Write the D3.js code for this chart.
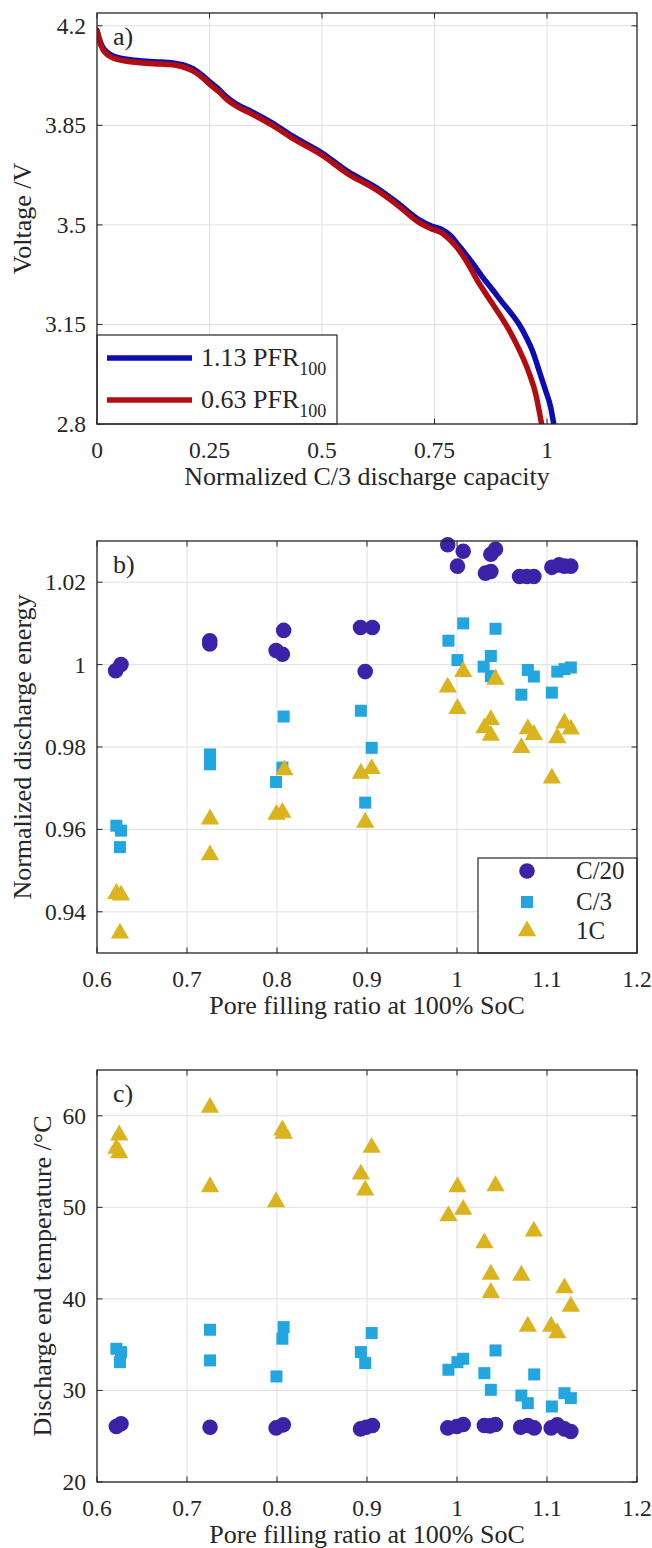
<!DOCTYPE html>
<html><head><meta charset="utf-8">
<script src="https://cdn.jsdelivr.net/npm/d3@7"></script>
<style>
body{margin:0;background:#fff}
text{font-family:"Liberation Serif","Times New Roman",serif;fill:#262626}
</style>
</head><body><svg id="chart" width="652" height="1548"></svg>
<script>
// ---------- Panel a data ----------
const capBlue = [0,0.005,0.012,0.022,0.035,0.05,0.063,0.085,0.11,0.135,0.157,0.175,0.19,0.205,0.22,0.235,0.25,0.27,0.287,0.31,0.343,0.39,0.436,0.501,0.557,0.623,0.669,0.716,0.745,0.765,0.786,0.80,0.818,0.837,0.856,0.88,0.902,0.92,0.939,0.953,0.967,0.985,0.996,1.008,1.015];
const voltBlue = [4.184,4.155,4.127,4.108,4.095,4.087,4.083,4.079,4.075,4.073,4.071,4.068,4.063,4.055,4.043,4.025,4.004,3.978,3.951,3.925,3.899,3.858,3.811,3.752,3.688,3.629,3.576,3.518,3.495,3.485,3.462,3.435,3.400,3.36,3.318,3.27,3.225,3.19,3.148,3.108,3.06,2.975,2.922,2.86,2.8];
const capRed = [0,0.005,0.012,0.022,0.035,0.05,0.063,0.085,0.11,0.135,0.157,0.175,0.19,0.205,0.22,0.235,0.25,0.27,0.287,0.31,0.343,0.39,0.436,0.501,0.557,0.623,0.669,0.716,0.745,0.765,0.786,0.80,0.82,0.847,0.88,0.914,0.94,0.96,0.975,0.988];
const voltRed = [4.184,4.15,4.12,4.1,4.088,4.08,4.076,4.072,4.068,4.066,4.064,4.061,4.056,4.047,4.035,4.017,3.995,3.969,3.943,3.917,3.891,3.85,3.803,3.744,3.68,3.621,3.568,3.508,3.485,3.473,3.445,3.42,3.375,3.30,3.22,3.135,3.055,2.98,2.905,2.8];
const seriesA = ["1.13 PFR","0.63 PFR"];
const seriesASub = "100";
const xTicksA = [0,0.25,0.5,0.75,1];
const yTicksA = [2.8,3.15,3.5,3.85,4.2];

// ---------- Panel b data (normalized discharge energy) ----------
const pfrC20 = [0.6207,0.6267,0.7253,0.7253,0.8074,0.799,0.806,0.8928,0.906,0.898,0.9897,1.0069,1.0005,1.0428,1.0376,1.0316,1.0376,1.0695,1.0775,1.0854,1.1054,1.1134,1.1194,1.1265];
const energyC20 = [0.9985,1.0,1.005,1.0058,1.0083,1.0034,1.0025,1.009,1.009,0.9983,1.0291,1.0275,1.0239,1.028,1.0268,1.0222,1.0226,1.0214,1.0214,1.0214,1.0236,1.0242,1.0239,1.0239];
const pfrC3 = [0.6215,0.6267,0.6255,0.7256,0.7256,0.7256,0.8074,0.806,0.799,0.8932,0.9052,0.898,0.9905,1.0069,1.0005,1.0428,1.0376,1.0296,1.0376,1.0715,1.0787,1.0854,1.1054,1.1114,1.1194,1.1265];
const energyC3 = [0.9609,0.9597,0.9557,0.9782,0.977,0.9758,0.9874,0.975,0.9715,0.9888,0.9798,0.9665,1.0058,1.01,1.0011,1.0087,1.0021,0.9995,0.9972,0.9927,0.9987,0.9971,0.9932,0.9983,0.9989,0.9993];
const pfr1C = [0.6215,0.6267,0.6255,0.7256,0.7256,0.8082,0.7994,0.806,0.8932,0.9052,0.898,1.0069,0.9897,1.0005,1.0428,1.0376,1.0304,1.0376,1.0715,1.0787,1.0854,1.1054,1.1114,1.1194,1.1265];
const energy1C = [0.9444,0.944,0.9348,0.9625,0.9538,0.9744,0.9636,0.9641,0.9736,0.9747,0.9617,0.9983,0.9945,0.9893,0.9964,0.9866,0.9846,0.9828,0.9798,0.9844,0.983,0.9724,0.9822,0.9858,0.9843];
const yTicksB = [0.94,0.96,0.98,1,1.02];

// ---------- Panel c data (discharge end temperature) ----------
const pfrC20T = [0.6215,0.6267,0.7256,0.799,0.807,0.8928,0.899,0.906,0.9897,0.9997,1.0069,1.0304,1.0364,1.0428,1.0707,1.0787,1.0858,1.1046,1.1114,1.1194,1.1265];
const tempC20 = [26.06,26.35,25.99,25.91,26.24,25.8,25.99,26.17,25.91,26.06,26.28,26.17,26.13,26.28,25.99,26.17,25.91,25.91,26.24,25.8,25.51];
const pfrC3T = [0.6215,0.6267,0.6255,0.7256,0.7256,0.8074,0.806,0.7994,0.9052,0.8932,0.898,0.9905,1.0005,1.0069,1.0428,1.0304,1.0376,1.0715,1.0787,1.0858,1.1054,1.1194,1.1265];
const tempC3 = [34.55,34.19,33.09,36.63,33.28,36.92,35.65,31.53,36.27,34.19,32.99,32.26,33.09,33.46,34.37,31.89,30.07,29.45,28.61,31.75,28.25,29.7,29.16];
const pfr1CT = [0.6247,0.6215,0.6247,0.7256,0.7256,0.806,0.8074,0.799,0.9052,0.8932,0.898,1.0005,1.0069,0.9905,1.0428,1.0304,1.0376,1.0376,1.0854,1.0715,1.0787,1.1194,1.1265,1.1046,1.1114];
const temp1C = [57.89,56.43,55.95,60.91,52.23,58.43,58.07,50.59,56.54,53.62,51.87,52.23,49.76,49.06,52.34,46.11,42.68,40.68,47.39,42.57,37.0,41.19,39.18,37.0,36.27];
const yTicksC = [20,30,40,50,60];
const xTicksBC = [0.6,0.7,0.8,0.9,1,1.1,1.2];
const rateLabels = ["C/20","C/3","1C"];

// ---------- styling ----------
const colBlue = "#0c0cb2", colRed = "#b20c10";
const colC20 = "#3b22a8", colC3 = "#22a6e0", col1C = "#dab31e";
const frameCol = "#262626", gridCol = "#e0e0e0";
const TICK_FS = 23.5, LABEL_FS = 26;
const L = 97, R = 637;

const svg = d3.select("#chart");

function hText(g, x, y, str, anchor, size) {
  return g.append("text").attr("x", x).attr("y", y)
    .attr("text-anchor", anchor || "start").attr("font-size", size).text(str);
}

function panel(top, bottom, xDom, yDom, xTicks, yTicks, xLabel, yLabel, yLabelX, tag) {
  const x = d3.scaleLinear().domain(xDom).range([L, R]);
  const y = d3.scaleLinear().domain(yDom).range([bottom, top]);
  const g = svg.append("g");
  g.append("g").selectAll("line").data(xTicks).join("line")
    .attr("x1", d => x(d)).attr("x2", d => x(d)).attr("y1", top).attr("y2", bottom)
    .attr("stroke", gridCol).attr("stroke-width", 1);
  g.append("g").selectAll("line").data(yTicks).join("line")
    .attr("y1", d => y(d)).attr("y2", d => y(d)).attr("x1", L).attr("x2", R)
    .attr("stroke", gridCol).attr("stroke-width", 1);
  const tl = 5.5;
  const tg = g.append("g").attr("stroke", frameCol).attr("stroke-width", 1);
  tg.selectAll(".xb").data(xTicks).join("line").attr("x1", d => x(d)).attr("x2", d => x(d)).attr("y1", bottom).attr("y2", bottom - tl);
  tg.selectAll(".xt").data(xTicks).join("line").attr("x1", d => x(d)).attr("x2", d => x(d)).attr("y1", top).attr("y2", top + tl);
  tg.selectAll(".yl").data(yTicks).join("line").attr("y1", d => y(d)).attr("y2", d => y(d)).attr("x1", L).attr("x2", L + tl);
  tg.selectAll(".yr").data(yTicks).join("line").attr("y1", d => y(d)).attr("y2", d => y(d)).attr("x1", R).attr("x2", R - tl);
  xTicks.forEach(d => hText(g, x(d), bottom + 34, String(d), "middle", TICK_FS));
  yTicks.forEach(d => hText(g, L - 11, y(d) + 8, String(d), "end", TICK_FS));
  hText(g, (L + R) / 2, bottom + 61, xLabel, "middle", LABEL_FS);
  g.append("text").attr("transform", `translate(${yLabelX},${(top + bottom) / 2}) rotate(-90)`)
    .attr("text-anchor", "middle").attr("font-size", LABEL_FS).text(yLabel);
  hText(g, L + 16, top + 32, tag, "start", LABEL_FS);
  return {x, y, g};
}

function frame(top, bottom) {
  svg.append("rect").attr("x", L).attr("y", top).attr("width", R - L).attr("height", bottom - top)
    .attr("fill", "none").attr("stroke", frameCol).attr("stroke-width", 1.3);
}

// ---------- Panel a ----------
const A = panel(13, 424, [0, 1.2], [2.8, 4.245], xTicksA, yTicksA,
  "Normalized C/3 discharge capacity", "Voltage /V", 31, "a)");
const lineA = d3.line().x(d => A.x(d[0])).y(d => A.y(d[1])).curve(d3.curveMonotoneX);
const blueData = capBlue.map((c, i) => [c, voltBlue[i]]);
const redData = capRed.map((c, i) => [c, voltRed[i]]);
svg.append("clipPath").attr("id", "clipA").append("rect")
  .attr("x", L).attr("y", 13).attr("width", R - L).attr("height", 424 - 13);
const curves = svg.append("g").attr("clip-path", "url(#clipA)");
curves.append("path").datum(blueData).attr("d", lineA).attr("fill", "none")
  .attr("stroke", colBlue).attr("stroke-width", 5.5).attr("stroke-linecap", "round").attr("stroke-linejoin", "round");
curves.append("path").datum(redData).attr("d", lineA).attr("fill", "none")
  .attr("stroke", colRed).attr("stroke-width", 5.5).attr("stroke-linecap", "round").attr("stroke-linejoin", "round");
const legA = svg.append("g");
legA.append("rect").attr("x", L).attr("y", 335).attr("width", 240).attr("height", 89)
  .attr("fill", "#fff").attr("stroke", frameCol).attr("stroke-width", 1.2);
[[colBlue, seriesA[0], 358], [colRed, seriesA[1], 400]].forEach(([c, s, yy]) => {
  legA.append("line").attr("x1", 107).attr("x2", 192).attr("y1", yy).attr("y2", yy)
    .attr("stroke", c).attr("stroke-width", 5.5);
  const t = legA.append("text").attr("x", 201).attr("y", yy + 8).attr("font-size", 26);
  t.append("tspan").text(s);
  t.append("tspan").attr("font-size", 18).attr("dy", 9).text(seriesASub);
});
frame(13, 424);

// ---------- scatter helper ----------
const symCircle = d3.symbol(d3.symbolCircle, 190);
const symSquare = d3.symbol(d3.symbolSquare, 144);
const symTri = d3.symbol(d3.symbolTriangle, 145);
function scatter(P, xs, ys, sym, col) {
  P.g.append("g").selectAll("path").data(xs.map((v, i) => [v, ys[i]])).join("path")
    .attr("transform", d => `translate(${P.x(d[0])},${P.y(d[1])})`)
    .attr("d", sym).attr("fill", col);
}

// ---------- Panel b ----------
const B = panel(541, 953, [0.6, 1.2], [0.93, 1.03], xTicksBC, yTicksB,
  "Pore filling ratio at 100% SoC", "Normalized discharge energy", 31, "b)");
scatter(B, pfrC20, energyC20, symCircle, colC20);
scatter(B, pfrC3, energyC3, symSquare, colC3);
scatter(B, pfr1C, energy1C, symTri, col1C);
const legB = svg.append("g");
legB.append("rect").attr("x", 478).attr("y", 858).attr("width", R - 478).attr("height", 953 - 858)
  .attr("fill", "#fff").attr("stroke", frameCol).attr("stroke-width", 1.2);
const legSyms = [symCircle, symSquare, symTri];
const legCols = [colC20, colC3, col1C];
[871, 902, 931].forEach((yy, i) => {
  legB.append("path").attr("transform", `translate(527,${yy})`).attr("d", legSyms[i]).attr("fill", legCols[i]);
  hText(legB, 576, yy + 8, rateLabels[i], "start", 25);
});
frame(541, 953);

// ---------- Panel c ----------
const C = panel(1070, 1482, [0.6, 1.2], [20, 65], xTicksBC, yTicksC,
  "Pore filling ratio at 100% SoC", "Discharge end temperature /°C", 51, "c)");
scatter(C, pfrC20T, tempC20, symCircle, colC20);
scatter(C, pfrC3T, tempC3, symSquare, colC3);
scatter(C, pfr1CT, temp1C, symTri, col1C);
frame(1070, 1482);
</script></body></html>
